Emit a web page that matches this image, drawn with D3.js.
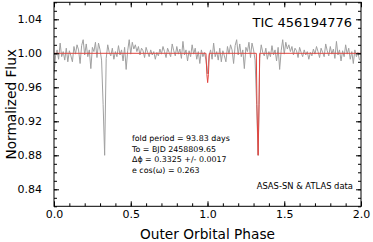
<!DOCTYPE html>
<html>
<head>
<meta charset="utf-8">
<script src="https://cdn.jsdelivr.net/npm/d3@7"></script>
<style>
  body { margin: 0; background: #fff; }
  text { font-family: "DejaVu Sans", sans-serif; fill: #000; }
</style>
</head>
<body>
<div class="main-container"></div>
<script>
// binned flux for one cycle, phase 0.00 .. 0.99 (step 0.01)
const phaseBins = d3.range(0, 100).map(i => i / 100);
const fluxCycle = [
  0.976, 0.997, 1.004, 0.993, 1.012, 0.996, 1.002, 0.992, 1.006, 0.990,
  1.003, 0.997, 0.990, 1.008, 0.999, 1.010, 1.004, 0.988, 1.009, 1.016,
  0.998, 1.011, 0.996, 1.004, 0.982, 1.007, 1.002, 1.013, 0.995, 1.012,
  1.004, 0.992, 0.940, 0.880, 0.994, 1.010, 1.001, 0.997, 1.006, 0.993,
  1.002, 0.996, 1.009, 0.998, 1.004, 0.991, 1.007, 0.981, 1.003, 1.016,
  0.999, 1.013, 1.005, 1.010, 1.002, 1.008, 0.998, 1.006, 1.003, 0.995,
  1.007, 1.001, 0.996, 1.004, 0.998, 1.002, 0.993, 1.001, 0.997, 1.005,
  0.999, 1.008, 1.002, 0.995, 1.006, 1.001, 0.996, 1.011, 1.003, 0.997,
  1.008, 0.999, 1.005, 0.994, 1.014, 0.998, 1.004, 0.991, 1.003, 0.996,
  1.010, 0.999, 1.006, 0.993, 1.002, 0.988, 1.004, 0.996, 1.001, 0.992
];
const cycles = [0, 1];

// eclipse model (red)
const modelPhase = [0.0, 0.990, 0.996, 1.001, 1.006, 1.012, 1.318, 1.322, 1.330, 1.336, 1.340, 2.0];
const modelFlux  = [1.0, 1.000, 0.975, 0.9655, 0.975, 1.000, 1.000, 0.940, 0.880, 0.940, 1.000, 1.0];

const xMajor = [0, 0.5, 1.0, 1.5, 2.0];
const yMajor = [0.84, 0.88, 0.92, 0.96, 1.00, 1.04];

const infoLines = [
  "fold period = 93.83 days",
  "To = BJD 2458809.65",
  "\u0394\u03d5 = 0.3325 +/- 0.0017",
  "e cos(\u03c9) = 0.263"
];

let margin = {top: 2.3, right: 12, bottom: 35.7, left: 54},
  width = 373 - margin.left - margin.right,
  height = 242 - margin.top - margin.bottom;

const svg = d3.select(".main-container")
  .append("svg")
  .attr("width", 373)
  .attr("height", 242)
  .append("g")
  .attr("transform", "translate(" + margin.left + "," + margin.top + ")");

let x = d3.scaleLinear().domain([0, 2]).range([0, width]);
let y = d3.scaleLinear().domain([0.82, 1.06]).range([height, 0]);

svg.append("clipPath").attr("id", "clip")
  .append("rect").attr("width", width).attr("height", height);

// data, folded and shown twice
let data = [];
cycles.forEach(c => phaseBins.forEach((p, i) => data.push({phase: p + c, flux: fluxCycle[i]})));

svg.append("path")
  .datum(data)
  .attr("clip-path", "url(#clip)")
  .attr("fill", "none")
  .attr("stroke", "#a0a0a0")
  .attr("stroke-width", 1)
  .attr("d", d3.line().x(d => x(d.phase)).y(d => y(d.flux)));

svg.append("path")
  .datum(modelPhase.map((p, i) => ({phase: p, flux: modelFlux[i]})))
  .attr("clip-path", "url(#clip)")
  .attr("fill", "none")
  .attr("stroke", "#e2453f")
  .attr("stroke-width", 1)
  .attr("d", d3.line().x(d => x(d.phase)).y(d => y(d.flux)));

// axes, ticks pointing inward
function axisStyle(g) {
  g.select(".domain").remove();
  g.selectAll("line").attr("stroke", "#000");
  g.selectAll("text").style("font-size", "11px").style("fill", "#000");
}

svg.append("g").attr("transform", `translate(0,${height})`)
  .call(d3.axisBottom(x).tickValues(d3.range(0, 2.01, 0.1)).tickSize(-3).tickFormat(""))
  .call(axisStyle);
svg.append("g").attr("transform", `translate(0,${height})`)
  .call(d3.axisBottom(x).tickValues(xMajor).tickSize(-5).tickPadding(4).tickFormat(d3.format(".1f")))
  .call(axisStyle);
svg.append("g")
  .call(d3.axisTop(x).tickValues(d3.range(0, 2.01, 0.1)).tickSize(-3).tickFormat(""))
  .call(axisStyle);
svg.append("g")
  .call(d3.axisTop(x).tickValues(xMajor).tickSize(-5).tickFormat(""))
  .call(axisStyle);

svg.append("g")
  .call(d3.axisLeft(y).tickValues(d3.range(0.82, 1.0601, 0.01)).tickSize(-3).tickFormat(""))
  .call(axisStyle);
svg.append("g")
  .call(d3.axisLeft(y).tickValues(yMajor).tickSize(-5).tickPadding(12).tickFormat(d3.format(".2f")))
  .call(axisStyle);
svg.append("g").attr("transform", `translate(${width},0)`)
  .call(d3.axisRight(y).tickValues(d3.range(0.82, 1.0601, 0.01)).tickSize(-3).tickFormat(""))
  .call(axisStyle);
svg.append("g").attr("transform", `translate(${width},0)`)
  .call(d3.axisRight(y).tickValues(yMajor).tickSize(-5).tickFormat(""))
  .call(axisStyle);

svg.append("rect")
  .attr("width", width)
  .attr("height", height)
  .attr("fill", "none")
  .attr("stroke", "#000")
  .attr("stroke-width", 1);

// labels
svg.append("text")
  .attr("x", width / 2)
  .attr("y", height + 33)
  .attr("text-anchor", "middle")
  .style("font-size", "13.7px")
  .text("Outer Orbital Phase");

svg.append("text")
  .attr("transform", `translate(${-38},${height / 2}) rotate(-90)`)
  .attr("text-anchor", "middle")
  .style("font-size", "13.7px")
  .text("Normalized Flux");

svg.append("text")
  .attr("x", 298)
  .attr("y", 24.4)
  .attr("text-anchor", "end")
  .style("font-size", "13px")
  .text("TIC 456194776");

svg.append("g")
  .selectAll("text")
  .data(infoLines)
  .join("text")
  .attr("x", 78)
  .attr("y", (d, i) => 138.7 + i * 10.7)
  .style("font-size", "7.9px")
  .text(d => d);

svg.append("text")
  .attr("x", 299)
  .attr("y", 186.4)
  .attr("text-anchor", "end")
  .style("font-size", "8.4px")
  .text("ASAS-SN & ATLAS data");
</script>
</body>
</html>
